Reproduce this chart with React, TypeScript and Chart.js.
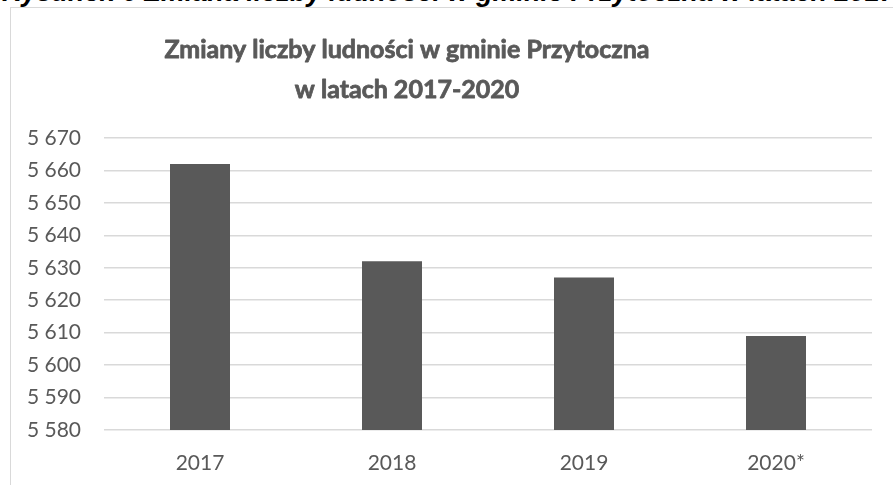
import React, { useEffect, useRef } from "react";
import { Chart, registerables } from "chart.js";

Chart.register(...registerables);

const caption = "Rysunek 6 Zmiana liczby ludności w gminie Przytoczna w latach 2017-2020";
const titleLines = ["Zmiany liczby ludności w gminie Przytoczna", "w latach 2017-2020"];
const categories = ["2017", "2018", "2019", "2020*"];
const population = [5662, 5632, 5627, 5609];
const yMin = 5580;
const yMax = 5670;
const yStep = 10;

const fmt = (v: number) => String(v).replace(/\B(?=(\d{3})+(?!\d))/g, " ");

const titlePlugin = {
  id: "customTitle",
  afterDraw(chart: any) {
    const ctx = chart.ctx;
    ctx.save();
    ctx.fillStyle = "#595959";
    ctx.strokeStyle = "#595959";
    ctx.lineWidth = 0.8;
    ctx.lineJoin = "round";
    ctx.font = "bold 25px Lato";
    ctx.textAlign = "center";
    ctx.textBaseline = "middle";
    ctx.fillText(titleLines[0], 407, 50);
    ctx.strokeText(titleLines[0], 407, 50);
    ctx.fillText(titleLines[1], 407, 90);
    ctx.strokeText(titleLines[1], 407, 90);
    ctx.restore();
  },
};

export default function App() {
  const ref = useRef<HTMLCanvasElement>(null);
  useEffect(() => {
    const chart = new Chart(ref.current!, {
      type: "bar",
      data: {
        labels: categories,
        datasets: [
          {
            data: population,
            backgroundColor: "#595959",
            barPercentage: 0.3125,
            categoryPercentage: 1,
          },
        ],
      },
      plugins: [titlePlugin],
      options: {
        animation: false,
        responsive: false,
        maintainAspectRatio: false,
        layout: { padding: { left: 0, top: 138, right: 21, bottom: 0 } },
        plugins: { legend: { display: false }, tooltip: { enabled: false }, title: { display: false } },
        scales: {
          x: {
            grid: { display: false },
            border: { display: false },
            ticks: { color: "#595959", font: { family: "Lato", size: 21 }, padding: 13 },
            afterFit: (s: any) => { s.height = 55; },
          },
          y: {
            min: yMin,
            max: yMax,
            grid: { color: "#d9d9d9", lineWidth: 1.5, drawTicks: false },
            border: { display: false },
            ticks: {
              stepSize: yStep,
              color: "#595959",
              font: { family: "Lato", size: 21 },
              padding: 23,
              callback: (v: any) => fmt(Number(v)),
            },
            afterFit: (s: any) => { s.width = 104; },
          },
        },
      },
    });
    return () => chart.destroy();
  }, []);
  return (
    <div style={{ position: "fixed", left: 0, top: 0, width: 893, height: 485, overflow: "hidden", background: "#fff" }}>
      <div
        style={{
          position: "absolute",
          left: 2,
          top: -21,
          whiteSpace: "nowrap",
          fontFamily: "'Liberation Sans', Arial, sans-serif",
          fontWeight: "bold",
          fontStyle: "italic",
          fontSize: 27,
          lineHeight: "27px",
          color: "#000",
        }}
      >
        {caption}
      </div>
      <div
        style={{
          position: "absolute",
          left: 10,
          top: 7,
          width: 900,
          height: 500,
          borderLeft: "1px solid #d9d9d9",
          borderTop: "1px solid #d9d9d9",
          background: "#fff",
        }}
      />
      <canvas ref={ref} width={893} height={485} style={{ position: "absolute", left: 0, top: 0, width: 893, height: 485 }} />
    </div>
  );
}
